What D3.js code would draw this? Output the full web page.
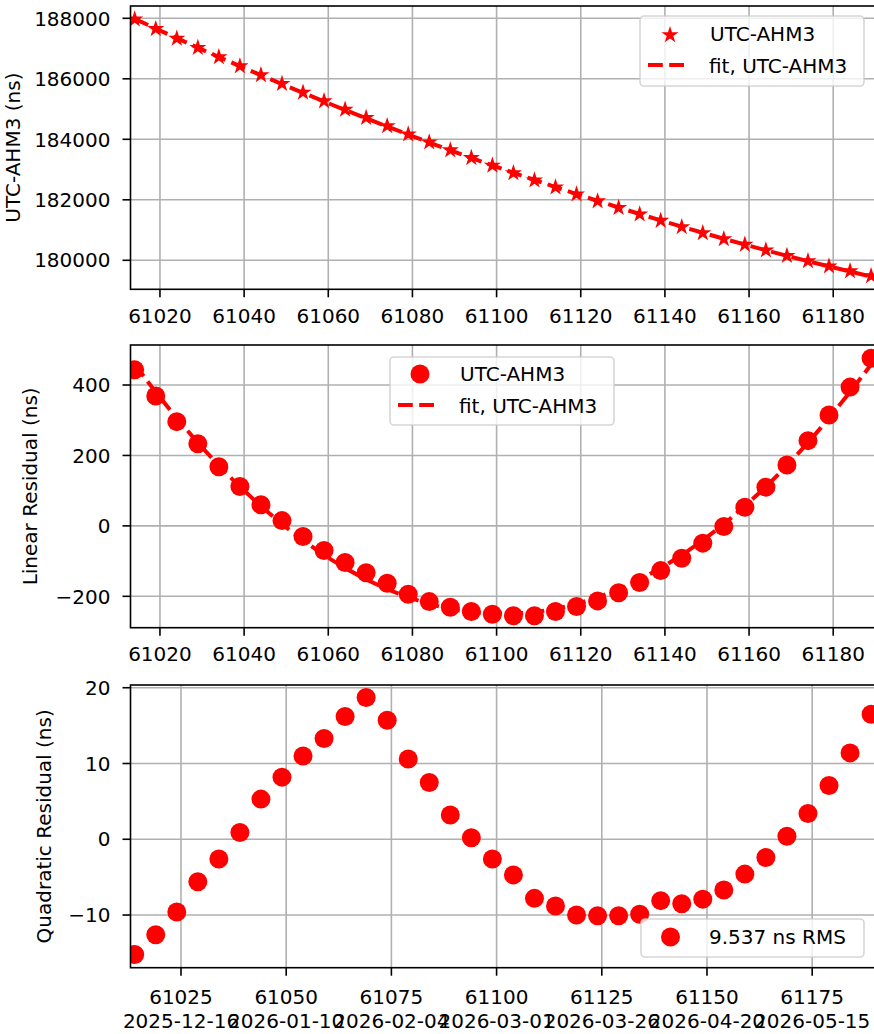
<!DOCTYPE html>
<html>
<head>
<meta charset="utf-8">
<script src="https://cdn.jsdelivr.net/npm/d3@7"></script>
<style>
  html, body { margin: 0; padding: 0; background: #fff; overflow: hidden; }
  svg { display: block; }
  text { font-family: "DejaVu Sans", sans-serif; font-size: 20px; fill: #000; }
</style>
</head>
<body>
<svg id="chart" width="874" height="1034"></svg>
<script>
// ---------------- data ----------------
const mjd = [61014, 61019, 61024, 61029, 61034, 61039, 61044, 61049, 61054, 61059,
             61064, 61069, 61074, 61079, 61084, 61089, 61094, 61099, 61104, 61109,
             61114, 61119, 61124, 61129, 61134, 61139, 61144, 61149, 61154, 61159,
             61164, 61169, 61174, 61179, 61184, 61189];

const utcAhm3 = [187967, 187650, 187333, 187027, 186718, 186419, 186124, 185835, 185547, 185263,
                 184986, 184713, 184440, 184166, 183901, 183642, 183386, 183135, 182887, 182644,
                 182413, 182183, 181956, 181735, 181521, 181311, 181103, 180903, 180706, 180518,
                 180331, 180151, 179976, 179806, 179642, 179480];

const fitUtcAhm3 = [187982, 187661, 187343, 187030, 186721, 186418, 186120, 185825, 185536, 185250,
                    184970, 184694, 184423, 184157, 183894, 183637, 183384, 183137, 182893, 182654,
                    182420, 182190, 181966, 181745, 181530, 181318, 181112, 180911, 180713, 180521,
                    180332, 180149, 179970, 179797, 179628, 179462];

const linearResidual = [443, 369, 296, 233, 168, 112, 60, 15, -30, -70,
                        -104, -133, -163, -194, -215, -231, -243, -251, -255, -255,
                        -243, -229, -213, -190, -161, -127, -92, -49, -2, 53,
                        110, 173, 242, 315, 394, 476];

const linearResidualFit = [458, 380, 306, 236, 171, 111, 56, 5, -41, -83,
                           -120, -152, -180, -203, -222, -236, -245, -249, -249, -245,
                           -236, -222, -203, -180, -152, -120, -83, -41, 5, 56,
                           111, 171, 236, 306, 380, 458];

const quadraticResidual = [-15.2, -12.6, -9.6, -5.6, -2.6, 0.9, 5.3, 8.2, 11.0, 13.3,
                           16.2, 18.7, 15.7, 10.6, 7.5, 3.2, 0.2, -2.6, -4.7, -7.8,
                           -8.8, -10.0, -10.1, -10.1, -9.9, -8.1, -8.5, -7.9, -6.7, -4.6,
                           -2.4, 0.4, 3.4, 7.1, 11.4, 16.5];

const xTicksTop = [61020, 61040, 61060, 61080, 61100, 61120, 61140, 61160, 61180];
const xTicksBottom = [61025, 61050, 61075, 61100, 61125, 61150, 61175];
const xDateLabels = ["2025-12-16", "2026-01-10", "2026-02-04", "2026-03-01", "2026-03-26", "2026-04-20", "2026-05-15"];
const yTicksTop = [180000, 182000, 184000, 186000, 188000];
const yTicksMid = [-200, 0, 200, 400];
const yTicksBot = [-10, 0, 10, 20];

const seriesLabel = "UTC-AHM3";
const fitLabel = "fit, UTC-AHM3";
const rmsLabel = "9.537 ns RMS";

// ---------------- layout ----------------
const svg = d3.select("#chart");
const RED = "#ff0000";
const GRID = "#b0b0b0";
const x = d3.scaleLinear().domain([61013, 61190]).range([130.5, 875.3]);
const fmt = v => (v < 0 ? "\u2212" + Math.abs(v) : String(v));

const panels = [
  { top: 6, bottom: 289.3, dom: [179041, 188407], yt: yTicksTop, ylabel: "UTC-AHM3 (ns)", ylx: 19.5 },
  { top: 345, bottom: 627.7, dom: [-289.1, 513.6], yt: yTicksMid, ylabel: "Linear Residual (ns)", ylx: 36.5 },
  { top: 685, bottom: 967.7, dom: [-16.95, 20.36], yt: yTicksBot, ylabel: "Quadratic Residual (ns)", ylx: 50.5 }
];
panels.forEach(p => { p.y = d3.scaleLinear().domain(p.dom).range([p.bottom, p.top]); });

const defs = svg.append("defs");
panels.forEach((p, i) => {
  defs.append("clipPath").attr("id", "clip" + i)
    .append("rect").attr("x", x.range()[0]).attr("y", p.top)
    .attr("width", x.range()[1] - x.range()[0]).attr("height", p.bottom - p.top);
});

function drawFrame(p, i, xt) {
  const g = svg.append("g");
  const x0 = x.range()[0], x1 = x.range()[1];
  xt.forEach(t => g.append("line").attr("x1", x(t)).attr("x2", x(t)).attr("y1", p.top).attr("y2", p.bottom)
    .attr("stroke", GRID).attr("stroke-width", 1.6));
  p.yt.forEach(t => g.append("line").attr("x1", x0).attr("x2", x1).attr("y1", p.y(t)).attr("y2", p.y(t))
    .attr("stroke", GRID).attr("stroke-width", 1.6));
  return g;
}

function drawAxes(p, i, xt, twoLine) {
  const g = svg.append("g");
  const x0 = x.range()[0], x1 = x.range()[1];
  g.append("rect").attr("x", x0).attr("y", p.top).attr("width", x1 - x0).attr("height", p.bottom - p.top)
    .attr("fill", "none").attr("stroke", "#000").attr("stroke-width", 1.6);
  xt.forEach((t, k) => {
    g.append("line").attr("x1", x(t)).attr("x2", x(t)).attr("y1", p.bottom).attr("y2", p.bottom + 8)
      .attr("stroke", "#000").attr("stroke-width", 1.6);
    if (twoLine) {
      g.append("text").attr("x", x(t)).attr("y", p.bottom + 36.3).attr("text-anchor", "middle").text(t);
      g.append("text").attr("x", x(t)).attr("y", p.bottom + 60.3).attr("text-anchor", "middle").text(xDateLabels[k]);
    } else {
      g.append("text").attr("x", x(t)).attr("y", p.bottom + 33.7).attr("text-anchor", "middle").text(t);
    }
  });
  p.yt.forEach(t => {
    g.append("line").attr("x1", x0 - 8).attr("x2", x0).attr("y1", p.y(t)).attr("y2", p.y(t))
      .attr("stroke", "#000").attr("stroke-width", 1.6);
    g.append("text").attr("x", x0 - 20).attr("y", p.y(t)).attr("dy", "0.36em")
      .attr("text-anchor", "end").text(fmt(t));
  });
  const cy = (p.top + p.bottom) / 2;
  g.append("text").attr("transform", `translate(${p.ylx},${cy}) rotate(-90)`)
    .attr("text-anchor", "middle").text(p.ylabel);
}

function legendBox(x0, y0, w, h) {
  svg.append("rect").attr("x", x0).attr("y", y0).attr("width", w).attr("height", h)
    .attr("rx", 4).attr("ry", 4)
    .attr("fill", "#fff").attr("fill-opacity", 0.8)
    .attr("stroke", "#cccccc").attr("stroke-opacity", 0.8).attr("stroke-width", 1.6);
}

const starPath = d3.symbol().type(d3.symbolStar).size(9 * 9 / 0.8908130915292852)();
const dashArr = "14.8,6.4";

// ---------------- panel 1 ----------------
{
  const p = panels[0];
  drawFrame(p, 0, xTicksTop);
  const g = svg.append("g").attr("clip-path", "url(#clip0)");
  const line = d3.line().x((d, i) => x(mjd[i])).y(d => p.y(d));
  g.append("path").attr("d", line(fitUtcAhm3)).attr("fill", "none").attr("stroke", RED)
    .attr("stroke-width", 4).attr("stroke-dasharray", dashArr);
  g.selectAll("path.star").data(utcAhm3).join("path").attr("class", "star")
    .attr("d", starPath).attr("fill", RED)
    .attr("transform", (d, i) => `translate(${x(mjd[i])},${p.y(d)})`);
  drawAxes(p, 0, xTicksTop, false);
  legendBox(640, 16, 224, 70);
  svg.append("path").attr("d", starPath).attr("fill", RED).attr("transform", "translate(670,35)");
  svg.append("text").attr("x", 710).attr("y", 41).text(seriesLabel);
  svg.append("line").attr("x1", 648).attr("x2", 688).attr("y1", 65).attr("y2", 65)
    .attr("stroke", RED).attr("stroke-width", 4).attr("stroke-dasharray", dashArr);
  svg.append("text").attr("x", 709).attr("y", 73).text(fitLabel);
}

// ---------------- panel 2 ----------------
{
  const p = panels[1];
  drawFrame(p, 1, xTicksTop);
  const g = svg.append("g").attr("clip-path", "url(#clip1)");
  const line = d3.line().x((d, i) => x(mjd[i])).y(d => p.y(d));
  g.append("path").attr("d", line(linearResidualFit)).attr("fill", "none").attr("stroke", RED)
    .attr("stroke-width", 4).attr("stroke-dasharray", dashArr);
  g.selectAll("circle").data(linearResidual).join("circle")
    .attr("cx", (d, i) => x(mjd[i])).attr("cy", d => p.y(d)).attr("r", 9.5).attr("fill", RED);
  drawAxes(p, 1, xTicksTop, false);
  legendBox(390, 357, 224, 68);
  svg.append("circle").attr("cx", 420).attr("cy", 374).attr("r", 9.5).attr("fill", RED);
  svg.append("text").attr("x", 460).attr("y", 381).text(seriesLabel);
  svg.append("line").attr("x1", 398).attr("x2", 438).attr("y1", 405).attr("y2", 405)
    .attr("stroke", RED).attr("stroke-width", 4).attr("stroke-dasharray", dashArr);
  svg.append("text").attr("x", 459).attr("y", 413).text(fitLabel);
}

// ---------------- panel 3 ----------------
{
  const p = panels[2];
  drawFrame(p, 2, xTicksBottom);
  const g = svg.append("g").attr("clip-path", "url(#clip2)");
  g.selectAll("circle").data(quadraticResidual).join("circle")
    .attr("cx", (d, i) => x(mjd[i])).attr("cy", d => p.y(d)).attr("r", 9.5).attr("fill", RED);
  drawAxes(p, 2, xTicksBottom, true);
  legendBox(641, 919, 223, 38);
  svg.append("circle").attr("cx", 670.5).attr("cy", 937).attr("r", 9.5).attr("fill", RED);
  svg.append("text").attr("x", 709).attr("y", 944).text(rmsLabel);
}
</script>
</body>
</html>
